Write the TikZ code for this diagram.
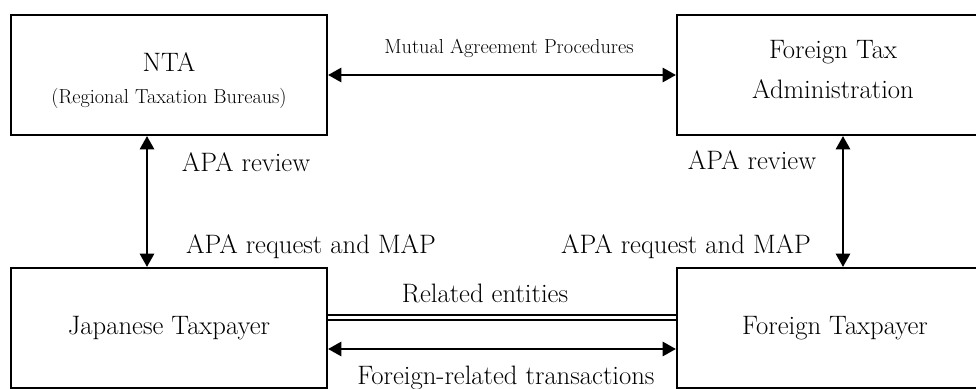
\documentclass[tikz,border=0pt]{standalone}
\usetikzlibrary{arrows.meta}
\begin{document}
\begin{tikzpicture}[x=0.75pt,y=-0.75pt,
  box/.style={draw,line width=1.5pt,minimum width=237pt,minimum height=90pt,inner sep=0pt,align=center,font=\fontsize{20}{30}\selectfont},
  lbl/.style={inner sep=0pt,align=center,font=\fontsize{20}{30}\selectfont},
  smalllbl/.style={inner sep=0pt,font=\fontsize{15.2}{18}\selectfont},
  link/.style={line width=2.1pt,{Triangle[length=10pt,width=10.5pt]}-{Triangle[length=10pt,width=10.5pt]}},
  related/.style={line width=1.5pt,double,double distance between line centers=3.8pt}]
  \pgfmathsetmacro\xl{147}   % x of left vertical arrow
  \pgfmathsetmacro\xr{843}   % x of right vertical arrow
  \useasboundingbox (0,0) rectangle (976,389);
  \clip (0,0) rectangle (976,389);

% the four boxes
  \node[box] (nta) at (169,75) {};
  \node[box] (fta) at (835,75) {};
  \node[box] (jtp) at (169,328) {Japanese Taxpayer};
  \node[box] (ftp) at (835,328) {Foreign Taxpayer};
  \node[lbl] (ntaname) at (169,62) {NTA};
  \node[smalllbl] (ntasub) at (169,98) {(Regional Taxation Bureaus)};
  \node[lbl] (ftaname) at (833,70) {Foreign Tax\\Administration};

% helper coordinates for the arrows
  \coordinate (lv) at (\xl,0);
  \coordinate (rv) at (\xr,0);
  \coordinate (rel) at (0,317.5);
  \coordinate (trans) at (0,349);

% arrows
  \draw[link] (nta.east) -- (fta.west);
  \draw[link] (nta.south -| lv) -- (jtp.north -| lv);
  \draw[link] (fta.south -| rv) -- (ftp.north -| rv);
  \draw[related] (jtp.east |- rel) -- (ftp.west |- rel);
  \draw[link] (jtp.east |- trans) -- (ftp.west |- trans);

% labels
  \node[smalllbl] (map) at (509,48) {Mutual Agreement Procedures};
  \node[lbl] (revl) at (246,162) {APA review};
  \node[lbl] (reql) at (311,247) {APA request and MAP};
  \node[lbl] (revr) at (752,160) {APA review};
  \node[lbl] (reqr) at (686,247) {APA request and MAP};
  \node[lbl] (ent) at (485,293) {Related entities};
  \node[lbl] (trn) at (506,378) {Foreign-related transactions};
\end{tikzpicture}
\end{document}
